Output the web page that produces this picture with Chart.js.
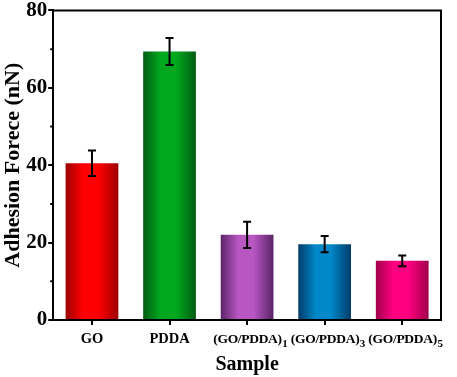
<!DOCTYPE html>
<html>
<head>
<meta charset="utf-8">
<script src="https://cdn.jsdelivr.net/npm/chart.js@4.4.1/dist/chart.umd.min.js"></script>
<style>
html, body { margin: 0; padding: 0; background: #fff; }
#wrap { width: 457px; height: 377px; }
</style>
</head>
<body>
<div id="wrap"><canvas id="chart"></canvas></div>
<script>
// sample names, subscript part drawn separately
var samples = ['GO', 'PDDA', '(GO/PDDA)', '(GO/PDDA)', '(GO/PDDA)'];
var subs = ['', '', '1', '3', '5'];
var force = [40.5, 69.4, 22.0, 19.6, 15.3];
var errs = [3.3, 3.5, 3.4, 2.1, 1.4];
var minorTicks = [10, 30, 50, 70];
var darkColors = ['#9c0000', '#005c12', '#5a2468', '#003c68', '#a0004c'];
var lightColors = ['#ff0000', '#00a81e', '#b856c2', '#0088c8', '#ff0080'];

var serif = "'Liberation Serif', 'Times New Roman', serif";
var barPct = 0.68;

function barFill(ctx) {
    var chart = ctx.chart;
    var area = chart.chartArea;
    var i = ctx.dataIndex;
    if (ctx.type !== 'data' || !area) return lightColors[0];
    var w = (area.right - area.left) / samples.length * barPct;
    var cx = chart.scales.x.getPixelForValue(i);
    var g = chart.ctx.createLinearGradient(cx - w / 2, 0, cx + w / 2, 0);
    g.addColorStop(0, darkColors[i]);
    g.addColorStop(0.33, lightColors[i]);
    g.addColorStop(0.62, lightColors[i]);
    g.addColorStop(1, darkColors[i]);
    return g;
}

var extras = {
    id: 'extras',
    afterDatasetsDraw: function(chart) {
        var c = chart.ctx, a = chart.chartArea;
        var xs = chart.scales.x, ys = chart.scales.y;
        c.save();
        c.strokeStyle = '#000';
        c.lineWidth = 2;
        // error bars
        for (var i = 0; i < force.length; i++) {
            var x = xs.getPixelForValue(i);
            var t = ys.getPixelForValue(force[i] + errs[i]);
            var b = ys.getPixelForValue(force[i] - errs[i]);
            c.beginPath();
            c.moveTo(x, t); c.lineTo(x, b);
            c.moveTo(x - 4, t); c.lineTo(x + 4, t);
            c.moveTo(x - 4, b); c.lineTo(x + 4, b);
            c.stroke();
        }
        // frame top and right
        c.beginPath();
        c.moveTo(a.left, a.top); c.lineTo(a.right, a.top); c.lineTo(a.right, a.bottom);
        c.stroke();
        // minor ticks
        c.beginPath();
        for (var j = 0; j < minorTicks.length; j++) {
            var y = ys.getPixelForValue(minorTicks[j]);
            c.moveTo(a.left - 3, y); c.lineTo(a.left, y);
        }
        c.stroke();
        // category labels with subscripts
        c.fillStyle = '#000';
        c.textBaseline = 'alphabetic';
        c.textAlign = 'left';
        for (var k = 0; k < samples.length; k++) {
            var main = (subs[k] ? 'bold 13.5px ' : 'bold 14.5px ') + serif;
            var small = 'bold 11px ' + serif;
            c.letterSpacing = subs[k] ? '-0.3px' : '0px';
            c.font = main;
            var w1 = c.measureText(samples[k]).width;
            c.font = small;
            var w2 = subs[k] ? c.measureText(subs[k]).width : 0;
            var x0 = xs.getPixelForValue(k) - (w1 + w2) / 2 + (subs[k] ? 3 : 0);
            c.font = main;
            c.fillText(samples[k], x0, 343);
            if (subs[k]) {
                c.font = small;
                c.fillText(subs[k], x0 + w1 + 0.5, 347);
            }
        }
        c.restore();
    }
};

new Chart(document.getElementById('chart'), {
    type: 'bar',
    data: {
        labels: samples,
        datasets: [{
            data: force,
            backgroundColor: barFill,
            borderWidth: 0,
            barPercentage: barPct,
            categoryPercentage: 1
        }]
    },
    options: {
        responsive: true,
        maintainAspectRatio: false,
        animation: false,
        layout: { padding: { left: 0, right: 16, top: 0, bottom: 0 } },
        plugins: { legend: { display: false }, tooltip: { enabled: false } },
        scales: {
            x: {
                offset: true,
                grid: { drawOnChartArea: false, offset: false, color: '#000', lineWidth: 2, tickLength: 5 },
                border: { display: true, color: '#000', width: 2 },
                ticks: { display: false },
                title: {
                    display: true, text: 'Sample', color: '#000',
                    font: { family: serif, size: 20, weight: 'bold' },
                    padding: { top: 28, bottom: 0 }
                }
            },
            y: {
                min: 0, max: 80,
                grid: { drawOnChartArea: false, color: '#000', lineWidth: 2, tickLength: 5 },
                border: { display: true, color: '#000', width: 2 },
                ticks: {
                    stepSize: 20, color: '#000', padding: 1,
                    font: { family: serif, size: 21, weight: 'bold', lineHeight: 0.9 }
                },
                title: {
                    display: true, text: 'Adhesion Forece (nN)', color: '#000',
                    font: { family: serif, size: 22, weight: 'bold', lineHeight: 1.1 },
                    padding: { top: 1, bottom: 0 }
                }
            }
        }
    },
    plugins: [extras]
});
</script>
</body>
</html>
